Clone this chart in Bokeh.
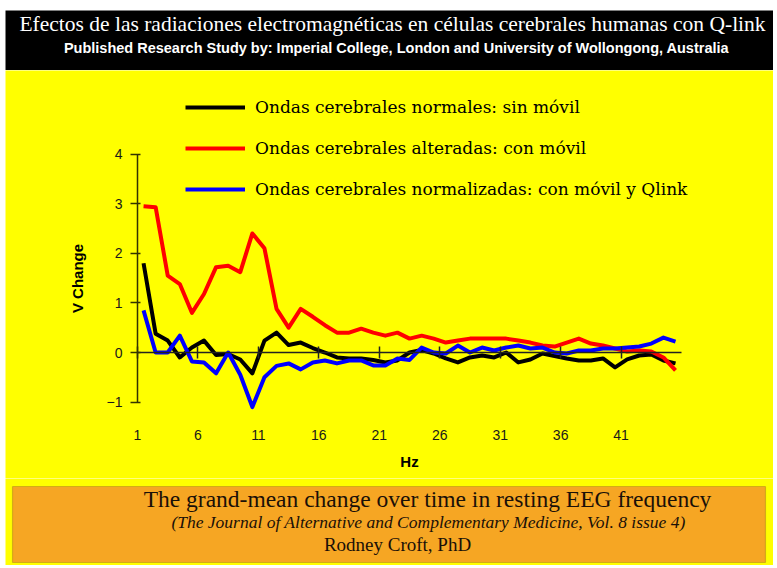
from bokeh.plotting import figure
from bokeh.models import (Range1d, LinearAxis, FixedTicker, Label, Legend,
                          LegendItem, BoxAnnotation, ColumnDataSource)
from bokeh.layouts import column
from bokeh.embed import file_html
from bokeh.resources import INLINE

# ---------------- data ----------------
hz = [1, 2, 3, 4, 5, 6, 7, 8, 9, 10, 11, 12, 13, 14, 15, 16, 17, 18, 19, 20,
      21, 22, 23, 24, 25, 26, 27, 28, 29, 30, 31, 32, 33, 34, 35, 36, 37, 38,
      39, 40, 41, 42, 43, 44, 45]

normales = [1.80, 0.38, 0.24, -0.10, 0.10, 0.24, -0.05, -0.03, -0.14, -0.42,
            0.24, 0.40, 0.15, 0.20, 0.09, 0.00, -0.10, -0.12, -0.12, -0.15,
            -0.20, -0.16, 0.00, 0.05, -0.02, -0.12, -0.20, -0.10, -0.06, -0.10,
            0.00, -0.20, -0.14, -0.02, -0.07, -0.12, -0.16, -0.16, -0.12, -0.30,
            -0.14, -0.06, -0.04, -0.16, -0.22]

alteradas = [2.95, 2.93, 1.55, 1.38, 0.80, 1.18, 1.72, 1.75, 1.62, 2.40,
             2.10, 0.88, 0.50, 0.88, 0.72, 0.55, 0.40, 0.40, 0.48, 0.40,
             0.34, 0.40, 0.28, 0.34, 0.28, 0.20, 0.24, 0.28, 0.28, 0.28,
             0.28, 0.24, 0.20, 0.14, 0.12, 0.20, 0.28, 0.18, 0.14, 0.08,
             0.02, 0.04, 0.02, -0.10, -0.36]

normalizadas = [0.85, 0.00, 0.00, 0.34, -0.18, -0.20, -0.42, 0.00, -0.45, -1.10,
                -0.50, -0.27, -0.22, -0.34, -0.20, -0.16, -0.22, -0.16, -0.16, -0.26,
                -0.26, -0.12, -0.15, 0.10, 0.00, -0.02, 0.14, 0.00, 0.10, 0.04,
                0.10, 0.14, 0.08, 0.10, 0.00, -0.02, 0.04, 0.04, 0.08, 0.08,
                0.10, 0.12, 0.18, 0.30, 0.22]

series_names = ["Ondas cerebrales normales: sin móvil",
                "Ondas cerebrales alteradas: con móvil",
                "Ondas cerebrales normalizadas: con móvil y Qlink"]
series_colors = ["#000000", "#FF0000", "#0000FF"]

x_tick_labels = [1, 6, 11, 16, 21, 26, 31, 36, 41]
y_ticks = [-1, 0, 1, 2, 3, 4]

title_text = "Efectos de las radiaciones electromagnéticas en células cerebrales humanas con Q-link"
subtitle_text = "Published Research Study by: Imperial College, London and University of Wollongong, Australia"
caption_lines = ["The grand-mean change over time in resting EEG frequency",
                 "(The Journal of Alternative and Complementary Medicine, Vol. 8 issue 4)",
                 "Rodney Croft, PhD"]

YELLOW = "#FFFF00"
ORANGE = "#F6A623"
W = 768

# ---------------- top black banner ----------------
top = figure(width=W, height=60, x_range=Range1d(0, W), y_range=Range1d(0, 60),
             output_backend="svg", toolbar_location=None,
             x_axis_location=None, y_axis_location=None,
             min_border=0, background_fill_color="black",
             border_fill_color="black", outline_line_color=None)
top.grid.visible = False
top.add_layout(Label(x=387, y=47, text=title_text, text_align="center",
                     text_baseline="middle", text_color="white",
                     text_font="Liberation Serif", text_font_size="21.5px"))
top.add_layout(Label(x=391, y=23, text=subtitle_text, text_align="center",
                     text_baseline="middle", text_color="white",
                     text_font="Liberation Sans", text_font_style="bold",
                     text_font_size="14.5px"))

# ---------------- main chart ----------------
x_ticks = [v - 0.5 for v in x_tick_labels]
overrides = {t: str(v) for t, v in zip(x_ticks, x_tick_labels)}

p = figure(width=W, height=408, x_range=Range1d(-10.418, 53.105),
           y_range=Range1d(-2.540, 5.685), output_backend="svg",
           toolbar_location=None, min_border=0,
           x_axis_location=None, y_axis_location=None,
           background_fill_color=YELLOW, border_fill_color=YELLOW,
           outline_line_color=None)
p.grid.visible = False

xa = LinearAxis(fixed_location=0, ticker=FixedTicker(ticks=x_ticks),
                bounds=(x_ticks[0], hz[-1] + 0.5),
                major_label_overrides=overrides,
                axis_line_color="#222222", axis_line_width=1.5,
                major_tick_line_color="#222222", major_tick_line_width=1.5,
                major_tick_in=6, major_tick_out=6, minor_tick_line_color=None,
                major_label_standoff=71,
                major_label_text_font="Liberation Sans",
                major_label_text_font_size="14px",
                major_label_text_color="#1a1a1a",
                axis_label="Hz", axis_label_standoff=10,
                axis_label_text_font="Liberation Sans",
                axis_label_text_font_style="bold",
                axis_label_text_font_size="15px",
                axis_label_text_color="black")
p.add_layout(xa, "below")

ya = LinearAxis(fixed_location=x_ticks[0], ticker=FixedTicker(ticks=y_ticks),
                bounds=(min(y_ticks), max(y_ticks)),
                axis_line_color="#333300", axis_line_width=1.5,
                major_tick_line_color="#333300", major_tick_line_width=1.5,
                major_tick_in=3, major_tick_out=7, minor_tick_line_color=None,
                major_label_standoff=8,
                major_label_text_font="Liberation Sans",
                major_label_text_font_size="14px",
                major_label_text_color="#1a1a1a",
                axis_label="V Change", axis_label_standoff=18,
                axis_label_text_font="Liberation Sans",
                axis_label_text_font_style="bold",
                axis_label_text_font_size="15px",
                axis_label_text_color="black")
p.add_layout(ya, "left")

src = ColumnDataSource(dict(hz=hz, normales=normales, alteradas=alteradas,
                            normalizadas=normalizadas))
renderers = []
for col, c in zip(["normales", "alteradas", "normalizadas"], series_colors):
    renderers.append(p.line("hz", col, source=src, line_color=c, line_width=4,
                            line_join="round"))

legend = Legend(items=[LegendItem(label=n, renderers=[r])
                       for n, r in zip(series_names, renderers)],
                location=(180, 279), orientation="vertical",
                glyph_width=60, glyph_height=20, label_height=20, spacing=21,
                padding=0, margin=0, label_standoff=10,
                background_fill_alpha=0, border_line_color=None,
                label_text_font="DejaVu Serif", label_text_font_size="17px",
                label_text_color="black")
p.add_layout(legend)

# ---------------- bottom caption box ----------------
bot = figure(width=W, height=87, x_range=Range1d(0, W), y_range=Range1d(0, 87),
             output_backend="svg", toolbar_location=None,
             x_axis_location=None, y_axis_location=None, min_border=0,
             background_fill_color=YELLOW, border_fill_color=YELLOW,
             outline_line_color=None)
bot.grid.visible = False
bot.add_layout(BoxAnnotation(left=7, right=760, bottom=3, top=79,
                             fill_color=ORANGE, fill_alpha=1.0,
                             line_color="#7a5a20", line_width=1.2))
bot.add_layout(Label(x=422, y=67, text=caption_lines[0], text_align="center",
                     text_baseline="middle", text_color="#1a1008",
                     text_font="Liberation Serif", text_font_size="23.5px"))
bot.add_layout(Label(x=423, y=44, text=caption_lines[1], text_align="center",
                     text_baseline="middle", text_color="#1a1008",
                     text_font="Liberation Serif", text_font_style="italic",
                     text_font_size="17.5px"))
bot.add_layout(Label(x=392, y=21, text=caption_lines[2], text_align="center",
                     text_baseline="middle", text_color="#1a1008",
                     text_font="Liberation Serif", text_font_size="19px"))

layout = column(top, p, bot, margin=(10, 4, 3, 5))
open("out.html", "w").write(file_html(layout, INLINE))
